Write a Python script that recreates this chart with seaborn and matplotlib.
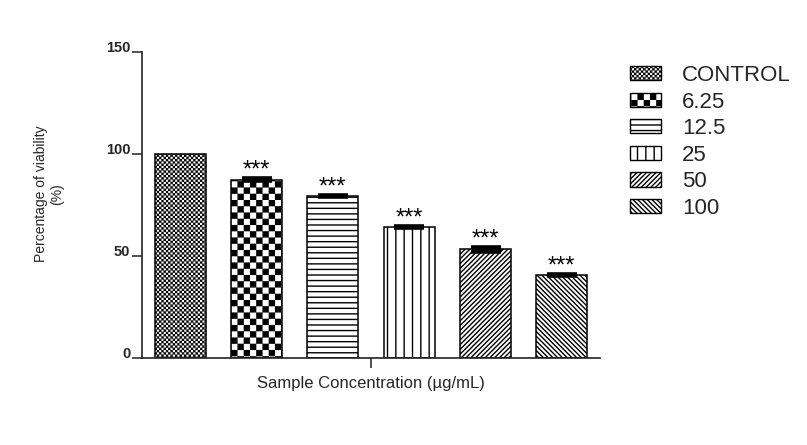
import warnings
warnings.filterwarnings("ignore")

import numpy as np
import pandas as pd
import matplotlib
matplotlib.use("Agg")
import matplotlib.pyplot as plt
import matplotlib.hatch as mhatch
from matplotlib.path import Path
from matplotlib.patches import Patch
import seaborn as sns

# ---------------- data ----------------
groups = ["CONTROL", "6.25", "12.5", "25", "50", "100"]
viability = [100.0, 87.3, 79.4, 64.3, 53.2, 40.7]
sem = [0.0, 0.7, 0.6, 0.5, 1.3, 0.6]
significance = ["", "***", "***", "***", "***", "***"]
y_ticks = [0, 50, 100, 150]
x_label = "Sample Concentration (µg/mL)"
y_label = "Percentage of viability\n(%)"

# fill patterns for each concentration
hatches = ["C", "c", "---", "||", "///////", "\\\\\\\\\\\\\\"]


# ---------------- custom checkerboard hatch ----------------
class CheckerHatch(mhatch.HatchPatternBase):
    def __init__(self, hatch, density):
        if "C" in hatch:
            self.n = 44
        elif "c" in hatch:
            self.n = 16
        else:
            self.n = 0
        self.num_vertices = (self.n * self.n // 2) * 5

    def set_vertices_and_codes(self, vertices, codes):
        n = self.n
        s = 1.0 / n
        m = 0.5 * (100.0 / 72.0) / 100.0 * 0.9
        k = 0
        for i in range(n):
            for j in range(n):
                if (i + j) % 2:
                    continue
                x0, y0 = i * s + m, j * s + m
                x1, y1 = (i + 1) * s - m, (j + 1) * s - m
                vertices[k:k + 5] = [(x0, y0), (x1, y0), (x1, y1), (x0, y1), (x0, y0)]
                codes[k:k + 5] = [Path.MOVETO, Path.LINETO, Path.LINETO,
                                  Path.LINETO, Path.CLOSEPOLY]
                k += 5


mhatch._hatch_types.append(CheckerHatch)

# ---------------- style ----------------
sns.set_style("ticks")
plt.rcParams["font.family"] = ["Liberation Sans", "DejaVu Sans"]
plt.rcParams["hatch.linewidth"] = 1.0

df = pd.DataFrame({
    "x": ["Sample"] * len(groups),
    "concentration": groups,
    "viability": viability,
})

fig = plt.figure(figsize=(8.07, 4.45), dpi=100)
ax = fig.add_axes([142 / 807, 1 - 358 / 445, 458 / 807, 306 / 445])

sns.barplot(
    data=df, x="x", y="viability", hue="concentration", hue_order=groups,
    palette={g: "white" for g in groups}, edgecolor="black", linewidth=1.1,
    gap=0.33, width=0.8, errorbar=None, legend=False, ax=ax,
)

for cont, h in zip(ax.containers, hatches):
    for bar in cont:
        bar.set_hatch(h)
        bar.set_edgecolor("black")
        bar.set_facecolor("white")

# error bars and significance stars
cap = 10.5
for cont, m, e, sig in zip(ax.containers, viability, sem, significance):
    bar = cont[0]
    xc = bar.get_x() + bar.get_width() / 2
    if e > 0:
        ax.errorbar(xc, m, yerr=e, fmt="none", ecolor="black",
                    elinewidth=2 * cap, capsize=cap, capthick=2.6, zorder=5)
    if sig:
        ax.annotate(sig, xy=(xc, m + e), xytext=(0, -2.5),
                    textcoords="offset points", ha="center", va="bottom",
                    fontsize=17, color="black")

ax.set_xlim(-0.4, 0.4)
ax.set_ylim(0, 150)
ax.set_yticks(y_ticks)
ax.set_yticklabels([str(t) for t in y_ticks], fontweight="bold", fontsize=10.5)
for lbl in ax.get_yticklabels():
    lbl.set_va("baseline")
ax.set_xticks([0])
ax.set_xticklabels([""])
ax.tick_params(axis="both", direction="out", length=7, width=1.1, color="#222222", pad=1.5)

for side in ["top", "right"]:
    ax.spines[side].set_visible(False)
for side in ["left", "bottom"]:
    ax.spines[side].set_linewidth(1.2)
    ax.spines[side].set_color("#222222")

ax.set_xlabel(x_label, fontsize=12)
ax.xaxis.set_label_coords(0.5, -0.06)
ax.set_ylabel(y_label, fontsize=10)
ax.yaxis.set_label_coords(-0.17, 0.536)

handles = [Patch(facecolor="white", edgecolor="black", hatch=h, linewidth=1.0)
           for h in hatches]
fig.legend(handles, groups, loc="upper left", bbox_to_anchor=(630 / 807, 1 - 65 / 445),
           frameon=False, fontsize=16, handlelength=1.4, handleheight=0.62,
           handletextpad=0.95, labelspacing=0.25, borderaxespad=0, borderpad=0)

fig.savefig("out.png", dpi=100, facecolor="white")
